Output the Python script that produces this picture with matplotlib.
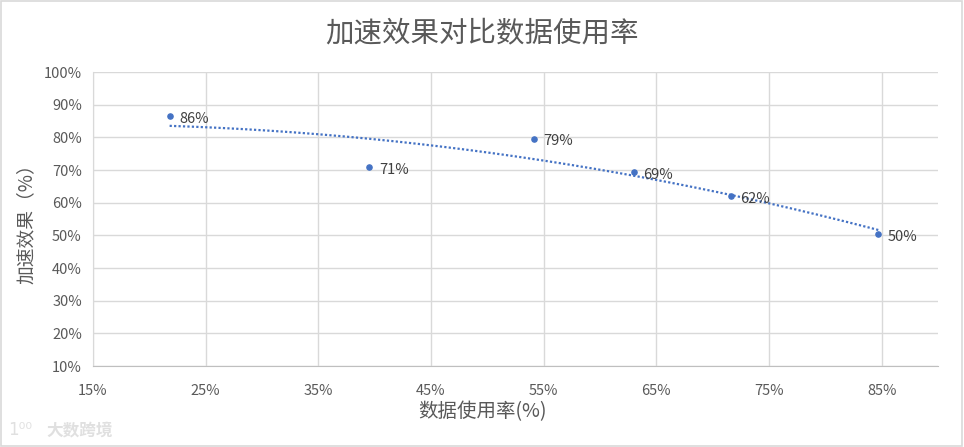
import matplotlib
matplotlib.use("Agg")
import matplotlib.pyplot as plt
from matplotlib.patches import Rectangle
from matplotlib.ticker import FuncFormatter, MultipleLocator, FixedLocator
import numpy as np

plt.rcParams['font.family'] = ['Noto Sans CJK SC', 'DejaVu Sans']

# data (percent)
usage = [21.8, 39.5, 54.1, 63.0, 71.6, 84.7]
speedup = [86.4, 70.9, 79.6, 69.3, 62.1, 50.4]
point_labels = ["86%", "71%", "79%", "69%", "62%", "50%"]
x_ticks = [15, 25, 35, 45, 55, 65, 75, 85]

title = "加速效果对比数据使用率"
x_label = "数据使用率(%)"
y_label = "加速效果（%）"

blue = "#4472C4"
grey_text = "#595959"
grid_col = "#D9D9D9"

fig = plt.figure(figsize=(9.64, 4.47), dpi=100)
ax = fig.add_axes([93 / 964, 1 - 366 / 447, (938 - 93) / 964, (366 - 72) / 447])

# chart area border
fig.patches.append(Rectangle((0.001, 0.002), 0.997, 0.995, transform=fig.transFigure,
                             fill=False, edgecolor="#D9D9D9", linewidth=1.2))

ax.scatter(usage, speedup, s=14, color=blue, zorder=3)

# 2nd order polynomial trendline, as Excel draws it
coef = np.polyfit(usage, speedup, 2)
xs = np.linspace(min(usage), max(usage), 200)
ax.plot(xs, np.polyval(coef, xs), linestyle=(0, (1, 1)), color=blue, linewidth=1.6, zorder=2)

for x, y, lab in zip(usage, speedup, point_labels):
    ax.annotate(lab, (x, y), xytext=(7, -2), textcoords="offset points",
                ha="left", va="center", fontsize=10.5, color="#404040")

ax.set_xlim(15, 90)
ax.set_ylim(10, 100)
ax.xaxis.set_major_locator(FixedLocator(x_ticks))
ax.yaxis.set_major_locator(MultipleLocator(10))
ax.xaxis.set_major_formatter(FuncFormatter(lambda v, p: f"{v:.0f}%"))
ax.yaxis.set_major_formatter(FuncFormatter(lambda v, p: f"{v:.0f}%"))
ax.grid(True, color=grid_col, linewidth=1)
ax.set_axisbelow(True)
ax.tick_params(length=0, labelsize=10.5, colors=grey_text, pad=8)
ax.tick_params(axis="x", pad=13)
for side in ["top", "right"]:
    ax.spines[side].set_visible(False)
ax.spines["left"].set_color(grid_col)
ax.spines["bottom"].set_color("#BFBFBF")

fig.text(0.5, 1 - 33 / 447, title, ha="center", va="center", fontsize=20.5, color=grey_text)
fig.text(0.5, 1 - 412 / 447, x_label, ha="center", va="center", fontsize=14, color=grey_text)
fig.text(26 / 964, 1 - 219 / 447, y_label, ha="center", va="center", rotation=90,
         fontsize=13.5, color=grey_text)

# watermark
fig.text(46 / 964, 1 - 430 / 447, "大数跨境", ha="left", va="center", fontsize=12,
         color="#E0E0E0", fontweight="bold")
fig.text(8 / 964, 1 - 430 / 447, "1⁰⁰", ha="left", va="center", fontsize=12,
         color="#E0E0E0", family=["DejaVu Sans"])

fig.savefig("out.png", dpi=100)
